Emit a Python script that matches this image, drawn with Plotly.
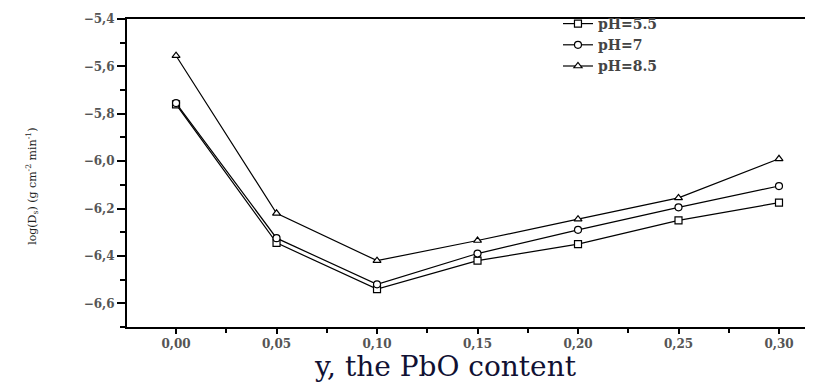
import plotly.graph_objects as go

# ---- data ----
pbo_content = [0.00, 0.05, 0.10, 0.15, 0.20, 0.25, 0.30]
log_ds_ph55 = [-5.760, -6.345, -6.540, -6.420, -6.350, -6.250, -6.175]
log_ds_ph7 = [-5.755, -6.325, -6.520, -6.390, -6.290, -6.195, -6.105]
log_ds_ph85 = [-5.555, -6.220, -6.420, -6.335, -6.245, -6.155, -5.990]
series_names = ["pH=5.5", "pH=7", "pH=8.5"]
series_symbols = ["square", "circle", "triangle-up"]

fig = go.Figure()
for name, vals, sym in zip(series_names, [log_ds_ph55, log_ds_ph7, log_ds_ph85], series_symbols):
    fig.add_trace(go.Scatter(
        x=pbo_content, y=vals, name=name, mode="lines+markers",
        line=dict(color="black", width=1.2),
        marker=dict(symbol=sym, size=7, color="white",
                    line=dict(color="black", width=1.2)),
    ))

fig.update_layout(
    width=813, height=385,
    margin=dict(l=119, r=0, t=11, b=66),
    plot_bgcolor="white", paper_bgcolor="white",
    separators=", ",
    showlegend=True,
    legend=dict(
        x=0.621, y=1.036, xanchor="left", yanchor="top",
        bgcolor="rgba(0,0,0,0)", borderwidth=0,
        font=dict(family="DejaVu Serif", size=14, color="#444444", weight="bold"),
        tracegroupgap=0, itemwidth=30,
    ),
    xaxis=dict(
        range=[-0.0244, 0.3209], dtick=0.05, tick0=0, tickformat=".2f",
        showgrid=False, zeroline=False,
        showline=True, linecolor="black", linewidth=2, mirror=True,
        ticks="outside", ticklen=5, tickwidth=2, tickcolor="black",
        minor=dict(dtick=0.025, tick0=0, ticks="outside", ticklen=4, tickwidth=1.5, tickcolor="black"),
        tickfont=dict(family="DejaVu Serif", size=12, color="#555555", weight="bold"),
    ),
    yaxis=dict(
        range=[-6.7, -5.4], dtick=0.2, tick0=-5.4, tickformat=".1f",
        showgrid=False, zeroline=False,
        showline=True, linecolor="black", linewidth=2, mirror=False,
        ticks="outside", ticklen=8, tickwidth=1.5, tickcolor="black",
        minor=dict(dtick=0.1, tick0=-5.4, ticks="outside", ticklen=5, tickwidth=1.5, tickcolor="black"),
        tickfont=dict(family="DejaVu Serif", size=12, color="#555555", weight="bold"),
    ),
    annotations=[
        dict(text="y, the PbO content", xref="paper", yref="paper",
             x=0.459, y=-0.127, xanchor="center", yanchor="middle", showarrow=False,
             font=dict(family="DejaVu Serif", size=28, color="#111133")),
        dict(text="log(D<sub>s</sub>) (g cm<sup>-2</sup> min<sup>-1</sup>)", xref="paper", yref="paper",
             x=-0.137, y=0.458, xanchor="center", yanchor="middle", showarrow=False, textangle=-90,
             font=dict(family="DejaVu Serif", size=11, color="#222222")),
    ],
)

fig.write_html("out.html")
